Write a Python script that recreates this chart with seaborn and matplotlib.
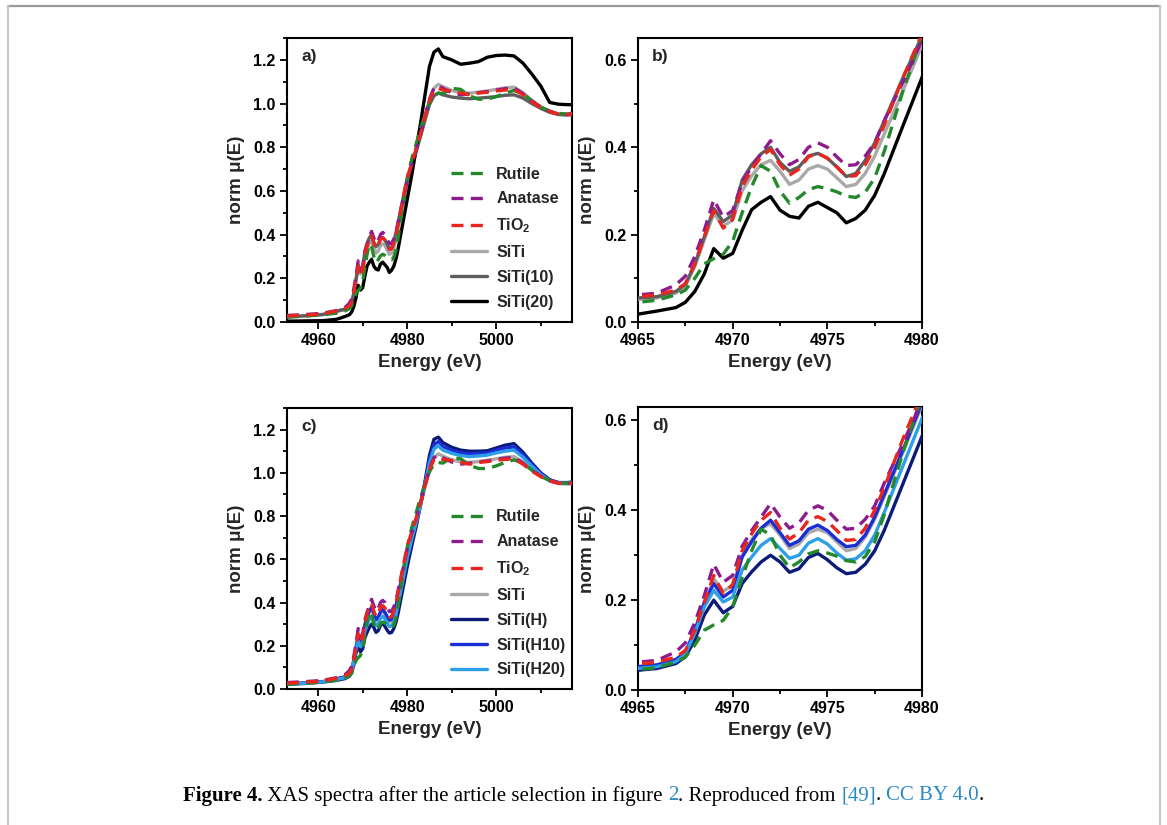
import matplotlib
matplotlib.use("Agg")
import matplotlib.pyplot as plt
from matplotlib.ticker import MultipleLocator, FormatStrFormatter
from matplotlib.lines import Line2D
import seaborn as sns

# ---- data ---------------------------------------------------------------
energy = [4953, 4957, 4961, 4964, 4965, 4966, 4967, 4967.5, 4968, 4968.5,
          4969, 4969.5, 4970, 4970.5, 4971, 4971.5, 4972, 4972.5, 4973, 4973.5,
          4974, 4974.5, 4975, 4975.5, 4976, 4976.5, 4977, 4977.5, 4978, 4979,
          4980, 4981, 4982, 4983, 4984, 4985, 4986, 4987, 4988, 4990,
          4992, 4994, 4996, 4998, 5000, 5002, 5004, 5006, 5008, 5010,
          5012, 5014, 5016, 5018]

rutile = [0.022, 0.027, 0.033, 0.040, 0.045, 0.050, 0.062, 0.073, 0.100, 0.133,
          0.145, 0.155, 0.185, 0.250, 0.310, 0.358, 0.345, 0.300, 0.272, 0.285,
          0.303, 0.310, 0.305, 0.298, 0.288, 0.285, 0.297, 0.330, 0.390, 0.530,
          0.655, 0.745, 0.815, 0.885, 0.950, 1.005, 1.040, 1.048, 1.045, 1.070,
          1.065, 1.035, 1.020, 1.020, 1.032, 1.048, 1.060, 1.045, 1.012, 0.985,
          0.965, 0.955, 0.952, 0.958]
anatase = [0.030, 0.034, 0.040, 0.052, 0.062, 0.066, 0.085, 0.105, 0.150, 0.210,
           0.280, 0.240, 0.255, 0.320, 0.355, 0.385, 0.415, 0.385, 0.360, 0.372,
           0.400, 0.410, 0.400, 0.378, 0.358, 0.360, 0.380, 0.410, 0.460, 0.550,
           0.645, 0.720, 0.785, 0.860, 0.940, 1.020, 1.070, 1.082, 1.070, 1.050,
           1.040, 1.045, 1.050, 1.055, 1.062, 1.068, 1.072, 1.045, 1.010, 0.985,
           0.965, 0.952, 0.950, 0.955]
tio2 = [0.027, 0.031, 0.037, 0.050, 0.058, 0.062, 0.073, 0.088, 0.133, 0.195,
        0.255, 0.215, 0.235, 0.310, 0.348, 0.378, 0.395, 0.360, 0.336, 0.350,
        0.378, 0.386, 0.375, 0.355, 0.333, 0.335, 0.360, 0.400, 0.450, 0.560,
        0.660, 0.725, 0.790, 0.862, 0.940, 1.015, 1.060, 1.070, 1.062, 1.058,
        1.048, 1.040, 1.048, 1.052, 1.058, 1.062, 1.065, 1.040, 1.008, 0.982,
        0.963, 0.952, 0.950, 0.955]
siti = [0.025, 0.029, 0.035, 0.046, 0.052, 0.055, 0.066, 0.082, 0.127, 0.188,
        0.248, 0.220, 0.233, 0.300, 0.335, 0.360, 0.370, 0.345, 0.315, 0.325,
        0.350, 0.358, 0.350, 0.330, 0.310, 0.315, 0.340, 0.380, 0.430, 0.530,
        0.634, 0.712, 0.780, 0.855, 0.935, 1.015, 1.070, 1.088, 1.078, 1.060,
        1.050, 1.048, 1.052, 1.058, 1.065, 1.072, 1.075, 1.050, 1.015, 0.985,
        0.962, 0.950, 0.948, 0.952]
siti10 = [0.024, 0.028, 0.034, 0.048, 0.055, 0.058, 0.070, 0.086, 0.132, 0.195,
          0.260, 0.230, 0.245, 0.325, 0.360, 0.385, 0.400, 0.365, 0.345, 0.355,
          0.380, 0.386, 0.375, 0.355, 0.333, 0.340, 0.370, 0.410, 0.460, 0.560,
          0.655, 0.720, 0.782, 0.850, 0.925, 0.995, 1.035, 1.048, 1.040, 1.030,
          1.025, 1.022, 1.025, 1.028, 1.032, 1.038, 1.040, 1.025, 1.000, 0.978,
          0.960, 0.950, 0.948, 0.950]
siti20 = [0.004, 0.005, 0.006, 0.012, 0.018, 0.025, 0.033, 0.045, 0.070, 0.110,
          0.168, 0.146, 0.157, 0.210, 0.257, 0.274, 0.287, 0.256, 0.242, 0.238,
          0.265, 0.274, 0.262, 0.250, 0.227, 0.237, 0.256, 0.290, 0.339, 0.450,
          0.560, 0.670, 0.790, 0.910, 1.040, 1.170, 1.235, 1.250, 1.215, 1.200,
          1.180, 1.185, 1.192, 1.212, 1.220, 1.222, 1.218, 1.185, 1.135, 1.080,
          1.005, 0.997, 0.995, 0.995]
siti_h = [0.022, 0.026, 0.032, 0.040, 0.044, 0.048, 0.059, 0.074, 0.111, 0.167,
          0.200, 0.172, 0.186, 0.237, 0.263, 0.285, 0.300, 0.285, 0.262, 0.270,
          0.295, 0.304, 0.290, 0.272, 0.259, 0.262, 0.280, 0.310, 0.355, 0.460,
          0.565, 0.660, 0.750, 0.850, 0.960, 1.080, 1.155, 1.165, 1.140, 1.118,
          1.105, 1.100, 1.100, 1.102, 1.115, 1.128, 1.135, 1.095, 1.045, 1.000,
          0.968, 0.955, 0.955, 0.960]
siti_h10 = [0.024, 0.028, 0.034, 0.046, 0.052, 0.056, 0.068, 0.084, 0.133, 0.195,
            0.237, 0.207, 0.222, 0.296, 0.330, 0.360, 0.378, 0.350, 0.322, 0.332,
            0.358, 0.367, 0.355, 0.335, 0.319, 0.322, 0.345, 0.385, 0.435, 0.535,
            0.640, 0.712, 0.782, 0.860, 0.950, 1.060, 1.130, 1.145, 1.122, 1.105,
            1.092, 1.088, 1.090, 1.092, 1.105, 1.115, 1.120, 1.085, 1.040, 0.998,
            0.966, 0.954, 0.953, 0.958]
siti_h20 = [0.023, 0.027, 0.033, 0.043, 0.048, 0.052, 0.063, 0.080, 0.126, 0.185,
            0.222, 0.196, 0.207, 0.267, 0.296, 0.322, 0.337, 0.315, 0.293, 0.300,
            0.327, 0.337, 0.325, 0.305, 0.289, 0.292, 0.310, 0.345, 0.395, 0.500,
            0.605, 0.690, 0.768, 0.850, 0.945, 1.045, 1.110, 1.125, 1.105, 1.090,
            1.080, 1.075, 1.078, 1.082, 1.092, 1.100, 1.105, 1.072, 1.030, 0.992,
            0.963, 0.953, 0.952, 0.957]

DASH = (0, (3.6, 2.2))
refs = [("Rutile", rutile, "#23892b", DASH),
        ("Anatase", anatase, "#8e1b8e", DASH),
        (r"TiO$_\mathbf{2}$", tio2, "#e8261e", DASH),
        ("SiTi", siti, "#a9a9a9", "-")]
top_extra = [("SiTi(10)", siti10, "#5e5e5e", "-"),
             ("SiTi(20)", siti20, "#000000", "-")]
bot_extra = [("SiTi(H)", siti_h, "#0c1a78", "-"),
             ("SiTi(H10)", siti_h10, "#1b2ed6", "-"),
             ("SiTi(H20)", siti_h20, "#2c9fe6", "-")]

# ---- style ----------------------------------------------------------------
sns.set_theme(style="ticks")
plt.rcParams["font.family"] = ["Liberation Sans", "DejaVu Sans"]
plt.rcParams["font.weight"] = "bold"
plt.rcParams["axes.labelweight"] = "bold"
plt.rcParams["mathtext.fontset"] = "custom"
plt.rcParams["mathtext.rm"] = "Liberation Sans"
plt.rcParams["mathtext.bf"] = "Liberation Sans:bold"

fig = plt.figure(figsize=(11.67, 8.25), dpi=100)
fig.patch.set_facecolor("white")

ax_a = fig.add_axes([0.2459, 0.6097, 0.2442, 0.3442])
ax_b = fig.add_axes([0.5467, 0.6097, 0.2434, 0.3442])
ax_c = fig.add_axes([0.2459, 0.1648, 0.2442, 0.3407])
ax_d = fig.add_axes([0.5467, 0.1636, 0.2434, 0.3431])


def draw(ax, series):
    # solid lines below, dashed references on top
    for name, vals, col, ls in series:
        z = 3 if ls == "-" else 4
        sns.lineplot(x=energy, y=vals, ax=ax, color=col, linestyle=ls,
                     linewidth=2.4, label=name, zorder=z, estimator=None)


def style(ax, xlim, ylim, xmaj, xmin, tag):
    ax.set_xlim(*xlim)
    ax.set_ylim(*ylim)
    ax.xaxis.set_major_locator(MultipleLocator(xmaj))
    ax.xaxis.set_minor_locator(MultipleLocator(xmin))
    ax.yaxis.set_major_locator(MultipleLocator(0.2))
    ax.yaxis.set_minor_locator(MultipleLocator(0.1))
    ax.yaxis.set_major_formatter(FormatStrFormatter("%.1f"))
    ax.tick_params(which="both", direction="out", width=1.3, labelsize=11.5,
                   colors="black", top=False, right=False)
    ax.tick_params(which="major", length=5, pad=3)
    ax.tick_params(which="minor", length=3)
    for s in ax.spines.values():
        s.set_visible(True)
        s.set_linewidth(1.5)
        s.set_color("black")
    ax.set_xlabel("Energy (eV)", fontsize=13.5, labelpad=4)
    ax.set_ylabel("norm μ(E)", fontsize=13.5, labelpad=6)
    ax.text(0.05, 0.935, tag, transform=ax.transAxes, fontsize=12.5,
            fontweight="bold", va="center", ha="left")


draw(ax_a, refs + top_extra)
draw(ax_b, refs + top_extra)
draw(ax_c, refs + bot_extra)
draw(ax_d, refs + bot_extra)

style(ax_a, (4953, 5017), (0, 1.3), 20, 10, "a)")
style(ax_b, (4965, 4980), (0, 0.65), 5, 2.5, "b)")
style(ax_c, (4953, 5017), (0, 1.3), 20, 10, "c)")
style(ax_d, (4965, 4980), (0, 0.63), 5, 2.5, "d)")

for ax in (ax_b, ax_d):
    ax.get_legend().remove()

leg_kw = dict(loc="upper left", frameon=False, fontsize=11.5, handlelength=2.3,
              handletextpad=0.55, labelspacing=0.62, borderaxespad=0)
ax_a.legend(bbox_to_anchor=(0.552, 0.57), **leg_kw)
ax_c.legend(bbox_to_anchor=(0.552, 0.662), **leg_kw)

# ---- page frame -------------------------------------------------------------
W, H = 1167, 825
fig.add_artist(Line2D([8 / W, 1160 / W], [1 - 6 / H, 1 - 6 / H],
                      transform=fig.transFigure, color="#9a9a9a", lw=1.6))
fig.add_artist(Line2D([8 / W, 8 / W], [0, 1 - 6 / H],
                      transform=fig.transFigure, color="#c8c8c8", lw=1.6))
fig.add_artist(Line2D([1160 / W, 1160 / W], [0, 1 - 6 / H],
                      transform=fig.transFigure, color="#c8c8c8", lw=1.6))

# ---- caption ----------------------------------------------------------------
blue = "#2a8bc6"
pieces = [("Figure 4.", "bold", "black"),
          (" XAS spectra after the article selection in figure ", "normal", "black"),
          ("2", "normal", blue),
          (". Reproduced from ", "normal", "black"),
          ("[49]", "normal", blue),
          (". ", "normal", "black"),
          ("CC BY 4.0", "normal", blue),
          (".", "normal", "black")]
renderer = fig.canvas.get_renderer()
texts = []
for s, w, c in pieces:
    t = fig.text(0, 1 - 796 / H, s, fontsize=15, fontweight=w, color=c,
                 family=["Liberation Serif", "DejaVu Serif"], va="center",
                 ha="left")
    texts.append(t)
widths = [t.get_window_extent(renderer).width for t in texts]
x = (W - sum(widths)) / 2
for t, wd in zip(texts, widths):
    t.set_x(x / W)
    x += wd

fig.savefig("out.png", dpi=100, facecolor="white")
